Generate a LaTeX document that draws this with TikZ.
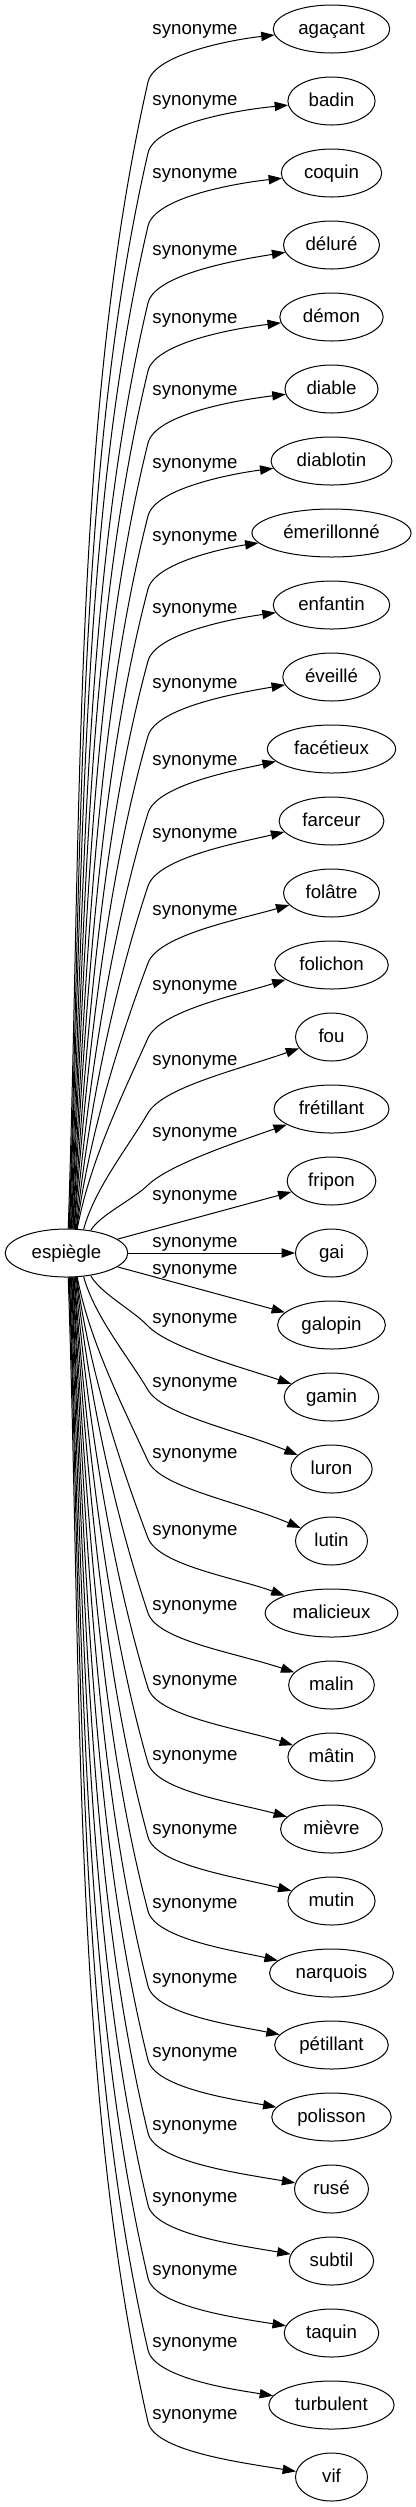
\documentclass[tikz,border=0pt]{standalone}
\usepackage{fontspec}
\setmainfont{Liberation Sans}
\usetikzlibrary{arrows.meta,shapes.geometric}
\begin{document}
\begin{tikzpicture}[x=0.75pt,y=-0.75pt,
  every node/.style={font=\fontsize{14}{16}\selectfont},
  tgt/.style={draw, ellipse, line width=0.75pt, inner xsep=6pt, inner ysep=2pt,
    minimum width=54pt, minimum height=36pt, text height=11pt, text depth=2.6pt},
  lbl/.style={inner sep=0pt, anchor=base},
  edge/.style={line width=0.75pt, -{Triangle[length=10pt,width=7pt]}},
]
\useasboundingbox (0,0) rectangle (415,2507);
\node[tgt, minimum width=92pt] (esp) at (66.5,1253) {espiègle};
\foreach \k/\w/\yl in {0/agaçant/29, 1/badin/100, 2/coquin/173, 3/déluré/250,
  4/démon/318, 5/diable/390, 6/diablotin/463, 7/émerillonné/536, 8/enfantin/608,
  9/éveillé/683, 10/facétieux/760, 11/farceur/833, 12/folâtre/910, 13/folichon/985,
  14/fou/1060, 15/frétillant/1132, 16/fripon/1195, 17/gai/1242, 18/galopin/1269,
  19/gamin/1318, 20/luron/1382, 21/lutin/1453, 22/malicieux/1530, 23/malin/1605,
  24/mâtin/1680, 25/mièvre/1755, 26/mutin/1829, 27/narquois/1903, 28/pétillant/1978,
  29/polisson/2052, 30/rusé/2125, 31/subtil/2197, 32/taquin/2270, 33/turbulent/2342,
  34/vif/2414} {
  \node[tgt] (t\k) at (331.5,{29+72*\k}) {\w};
  \node[lbl] (l\k) at (195,{\yl+5}) {synonyme};
}
\foreach \k/\yl in {0/29, 1/100, 2/173, 3/250, 4/318, 5/390, 6/463, 7/536, 8/608,
  9/683, 10/760, 11/833, 12/910, 13/985, 14/1060, 15/1132,
  19/1318, 20/1382, 21/1453, 22/1530, 23/1605, 24/1680, 25/1755, 26/1829,
  27/1903, 28/1978, 29/2052, 30/2125, 31/2197, 32/2270, 33/2342, 34/2414} {
  \pgfmathtruncatemacro\up{\k<17 ? 1 : 0}
  \pgfmathsetmacro\s{\up==1 ? -1 : 1}
  \pgfmathtruncatemacro\m{\up==1 ? \k : 34-\k}
  \pgfmathsetmacro\xs{\m<=13 ? 68+9*\m/13 : (\m==14 ? 83 : 90)}
  \pgfmathsetmacro\u{(\xs-66.5)/61.5}
  \pgfmathsetmacro\dy{24*sqrt(1-\u*\u)}
  \pgfmathsetmacro\ys{1253+\s*\dy}
  \pgfmathsetmacro\ang{-\s*atan2(\dy,\xs-66.5)}
  \pgfmathsetmacro\by{\up==1 ? \yl+53 : \yl+8}
  \pgfmathsetmacro\py{\up==1 ? \yl+10 : \yl+48}
  \pgfmathsetmacro\tsb{atan2(abs(\by-\ys),148-\xs)}
  \pgfmathsetmacro\tb{0.7*\tsb+17}
  \pgfmathsetmacro\lsb{30*sqrt(((148-\xs)/100)^2+((\by-\ys)/100)^2)}
  \pgfmathsetmacro\cax{\xs+0.175*(148-\xs)}
  \pgfmathsetmacro\cay{\ys+0.35*(\by-\ys)}
  \pgfmathsetmacro\cbx{148-cos(\tb)*\lsb}
  \pgfmathsetmacro\cby{\by-\s*sin(\tb)*\lsb}
  \pgfmathsetmacro\lbp{30*sqrt((89/100)^2+((\py-\by)/100)^2)}
  \pgfmathsetmacro\ccx{148+cos(\tb)*\lbp}
  \pgfmathsetmacro\ccy{\by+\s*sin(\tb)*\lbp}
  \draw[edge] (esp.\ang) .. controls (\cax,\cay) and (\cbx,\cby) .. (148,\by)
     .. controls (\ccx,\ccy) and (237,\py) .. (t\k);
}
\draw[edge] (esp) -- (t16);
\draw[edge] (esp) -- (t17);
\draw[edge] (esp) -- (t18);
\end{tikzpicture}
\end{document}
